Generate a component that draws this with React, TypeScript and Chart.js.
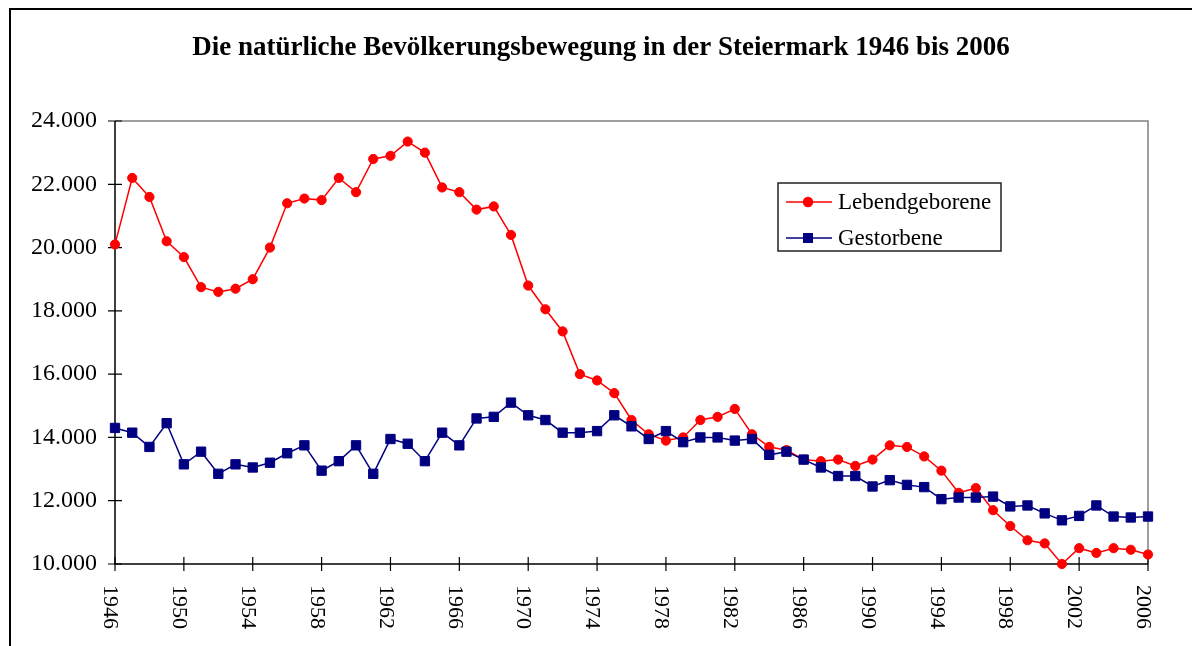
import React, { useEffect, useRef } from 'react';
import { Chart, registerables } from 'chart.js';

Chart.register(...registerables);

const chartTitle = 'Die natürliche Bevölkerungsbewegung in der Steiermark 1946 bis 2006';

const years = [
  1946, 1947, 1948, 1949, 1950, 1951, 1952, 1953, 1954, 1955,
  1956, 1957, 1958, 1959, 1960, 1961, 1962, 1963, 1964, 1965,
  1966, 1967, 1968, 1969, 1970, 1971, 1972, 1973, 1974, 1975,
  1976, 1977, 1978, 1979, 1980, 1981, 1982, 1983, 1984, 1985,
  1986, 1987, 1988, 1989, 1990, 1991, 1992, 1993, 1994, 1995,
  1996, 1997, 1998, 1999, 2000, 2001, 2002, 2003, 2004, 2005, 2006,
];

const births = [
  20100, 22200, 21600, 20200, 19700, 18750, 18600, 18700, 19000, 20000,
  21400, 21550, 21500, 22200, 21750, 22800, 22900, 23350, 23000, 21900,
  21750, 21200, 21300, 20400, 18800, 18050, 17350, 16000, 15800, 15400,
  14550, 14100, 13900, 14000, 14550, 14650, 14900, 14100, 13700, 13600,
  13300, 13250, 13300, 13100, 13300, 13750, 13700, 13400, 12950, 12250,
  12400, 11700, 11200, 10750, 10650, 10000, 10500, 10350, 10500, 10450, 10300,
];

const deaths = [
  14300, 14150, 13700, 14450, 13150, 13550, 12850, 13150, 13050, 13200,
  13500, 13750, 12950, 13250, 13750, 12850, 13950, 13800, 13250, 14150,
  13750, 14600, 14650, 15100, 14700, 14550, 14150, 14150, 14200, 14700,
  14350, 13950, 14200, 13850, 14000, 14000, 13900, 13950, 13450, 13550,
  13300, 13050, 12780, 12780, 12450, 12650, 12500, 12430, 12050, 12100,
  12100, 12130, 11820, 11850, 11600, 11380, 11520, 11850, 11500, 11470, 11500,
];

const seriesNames = ['Lebendgeborene', 'Gestorbene'];
const xTickYears = [1946, 1950, 1954, 1958, 1962, 1966, 1970, 1974, 1978, 1982, 1986, 1990, 1994, 1998, 2002, 2006];
const yMin = 10000;
const yMax = 24000;
const yStep = 2000;

const SERIF = '"Liberation Serif", "Times New Roman", serif';
const RED = '#FF0000';
const NAVY = '#000080';

const fmt = (v: number) => String(v).replace(/\B(?=(\d{3})+(?!\d))/g, '.');

const decorPlugin = {
  id: 'decor',
  beforeDraw(chart: any) {
    const ctx = chart.ctx;
    ctx.save();
    ctx.fillStyle = '#fff';
    ctx.fillRect(0, 0, chart.width, chart.height);
    ctx.strokeStyle = '#000';
    ctx.lineWidth = 2;
    ctx.beginPath();
    ctx.moveTo(10, chart.height);
    ctx.lineTo(10, 9);
    ctx.lineTo(chart.width, 9);
    ctx.stroke();
    ctx.restore();
  },
  beforeDatasetsDraw(chart: any) {
    const ctx = chart.ctx;
    const { left, right, top, bottom } = chart.chartArea;
    const xs = chart.scales.x;
    const ys = chart.scales.y;
    ctx.save();
    ctx.strokeStyle = '#808080';
    ctx.lineWidth = 1.5;
    ctx.beginPath();
    ctx.moveTo(left, top);
    ctx.lineTo(right, top);
    ctx.lineTo(right, bottom);
    ctx.stroke();
    ctx.strokeStyle = '#000';
    ctx.lineWidth = 1.5;
    ctx.beginPath();
    ctx.moveTo(left, top);
    ctx.lineTo(left, bottom);
    ctx.lineTo(right, bottom);
    ctx.stroke();
    ctx.lineWidth = 1.2;
    ctx.beginPath();
    ys.ticks.forEach((t: any) => {
      const py = ys.getPixelForValue(t.value);
      ctx.moveTo(left - 7, py);
      ctx.lineTo(left + 7, py);
    });
    xTickYears.forEach((yr) => {
      const px = xs.getPixelForValue(yr);
      ctx.moveTo(px, bottom - 7);
      ctx.lineTo(px, bottom + 7);
    });
    ctx.stroke();
    ctx.restore();
  },
  afterDraw(chart: any) {
    const ctx = chart.ctx;
    const xs = chart.scales.x;
    const { bottom } = chart.chartArea;
    ctx.save();
    ctx.fillStyle = '#000';
    ctx.font = `bold 27px ${SERIF}`;
    ctx.textAlign = 'center';
    ctx.textBaseline = 'middle';
    ctx.fillText(chartTitle, 601, 48);
    ctx.font = `22px ${SERIF}`;
    ctx.textAlign = 'left';
    ctx.textBaseline = 'middle';
    xTickYears.forEach((yr) => {
      const px = xs.getPixelForValue(yr);
      ctx.save();
      ctx.translate(px - 5, bottom + 21);
      ctx.rotate(Math.PI / 2);
      ctx.fillText(String(yr), 0, 0);
      ctx.restore();
    });
    const bx = 778, by = 183, bw = 223, bh = 68;
    ctx.strokeStyle = '#222';
    ctx.lineWidth = 1.5;
    ctx.strokeRect(bx, by, bw, bh);
    const ds = chart.data.datasets;
    const rows = [202, 238];
    ds.forEach((d: any, i: number) => {
      const y = rows[i];
      ctx.strokeStyle = d.borderColor;
      ctx.lineWidth = 1.5;
      ctx.beginPath();
      ctx.moveTo(786, y);
      ctx.lineTo(832, y);
      ctx.stroke();
      ctx.fillStyle = d.backgroundColor;
      if (d.pointStyle === 'rect') {
        ctx.fillRect(808 - 5, y - 5, 10, 10);
      } else {
        ctx.beginPath();
        ctx.arc(808, y, 5.2, 0, Math.PI * 2);
        ctx.fill();
      }
      ctx.fillStyle = '#000';
      ctx.font = `23px ${SERIF}`;
      ctx.textAlign = 'left';
      ctx.textBaseline = 'middle';
      ctx.fillText(d.label, 838, y + 1);
    });
    ctx.restore();
  },
};

export default function App() {
  const canvasRef = useRef<HTMLCanvasElement | null>(null);

  useEffect(() => {
    if (!canvasRef.current) return;
    Chart.defaults.color = '#000';
    const chart = new Chart(canvasRef.current, {
      type: 'line',
      data: {
        datasets: [
          {
            label: seriesNames[0],
            data: years.map((yr, i) => ({ x: yr, y: births[i] })),
            borderColor: RED,
            backgroundColor: RED,
            borderWidth: 1.5,
            pointStyle: 'circle',
            pointRadius: 4.6,
            pointBorderWidth: 1,
            pointBorderColor: RED,
            pointBackgroundColor: RED,
            tension: 0,
            clip: false,
            order: 2,
          } as any,
          {
            label: seriesNames[1],
            data: years.map((yr, i) => ({ x: yr, y: deaths[i] })),
            borderColor: NAVY,
            backgroundColor: NAVY,
            borderWidth: 1.5,
            pointStyle: 'rect',
            pointRadius: 6.6,
            pointBorderWidth: 1,
            pointBorderColor: NAVY,
            pointBackgroundColor: NAVY,
            tension: 0,
            clip: false,
            order: 1,
          } as any,
        ],
      },
      options: {
        responsive: false,
        animation: false,
        events: [],
        layout: { padding: { top: 121, right: 44, left: 0, bottom: 0 } },
        plugins: {
          legend: { display: false },
          title: { display: false },
          tooltip: { enabled: false },
        },
        scales: {
          x: {
            type: 'linear',
            min: 1946,
            max: 2006,
            ticks: { display: false, stepSize: 4 },
            grid: { display: false, drawTicks: false },
            border: { display: false },
            afterFit: (scale: any) => {
              scale.height = 82;
            },
          },
          y: {
            type: 'linear',
            min: yMin,
            max: yMax,
            ticks: {
              stepSize: yStep,
              padding: 18,
              color: '#000',
              font: { family: SERIF, size: 24 },
              callback: (v: any) => fmt(Number(v)),
            },
            grid: { display: false, drawTicks: false },
            border: { display: false },
            afterFit: (scale: any) => {
              scale.width = 115;
            },
          },
        },
      },
      plugins: [decorPlugin],
    } as any);
    return () => chart.destroy();
  }, []);

  return (
    <div style={{ position: 'fixed', left: 0, top: 0, width: 1192, height: 646, background: '#fff' }}>
      <canvas ref={canvasRef} width={1192} height={646} style={{ display: 'block' }} />
    </div>
  );
}
